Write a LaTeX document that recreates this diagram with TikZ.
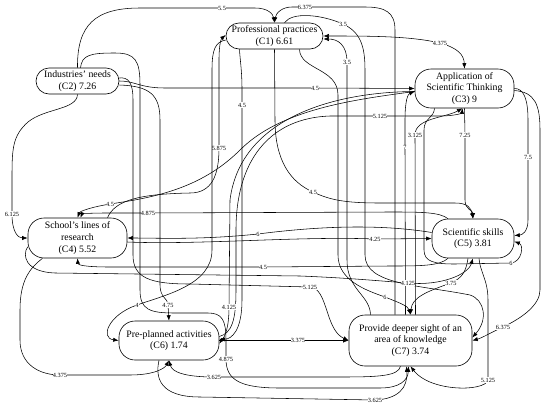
\documentclass[tikz,border=0pt]{standalone}
\usepackage{fontspec}
\setmainfont{Liberation Serif}
\usetikzlibrary{arrows.meta}

\begin{document}
\begin{tikzpicture}[
    x=1pt, y=-1pt, line width=0.55pt,
    concept/.style={draw, rounded corners=16pt, align=center, inner sep=0pt, line width=0.6pt,
      font=\fontsize{9.8}{11.7}\selectfont},
    flat/.style={rounded corners=13pt, minimum height=26pt},
    lbl/.style={fill=white, inner sep=0.4pt, font=\fontsize{6.3}{7}\selectfont},
    >={Latex[length=5.5pt,width=4.2pt]}
  ]
    \useasboundingbox (0,0) rectangle (550,410);

    \node[concept, flat, minimum width=97pt] (practices) at (274.5,36) {Professional practices\\(C1) 6.61};
    \node[concept, flat, minimum width=83pt] (industry) at (77.5,81) {Industries' needs\\(C2) 7.26};
    \node[concept, minimum width=99pt, minimum height=39pt] (thinking) at (464.5,88.5) {Application of\\Scientific Thinking\\(C3) 9};
    \node[concept, minimum width=99pt, minimum height=40pt] (research) at (77.5,238) {School's lines of\\research\\(C4) 5.52};
    \node[concept, minimum width=82pt, minimum height=39pt] (skills) at (473,238.5) {Scientific skills\\(C5) 3.81};
    \node[concept, minimum width=100pt, minimum height=39pt] (activities) at (169,340.5) {Pre-planned activities\\(C6) 1.74};
    \node[concept, minimum width=123pt, minimum height=51pt] (knowledge) at (410.5,340.5) {Provide deeper sight of an\\area of knowledge\\(C7) 3.74};

    \draw[->] (industry.north) .. controls (77,25) and (95,8) .. (140,8) -- (222,8) node[lbl]{5.5} -- (255,8) .. controls (268,8) and (273,14) .. (practices.north);
    \draw[->] ([xshift=-15.5pt]knowledge.north) -- (395,30) .. controls (395,12) and (385,7) .. (365,7) -- (305,7) node[lbl]{6.375} -- (292,7) .. controls (282,7) and (276,13) .. (practices.north);
    \draw[->] ([xshift=10pt]practices.north) .. controls (292,12) and (320,14) .. (343,24) node[lbl]{3.5} .. controls (360,32) and (365,45) .. (365,70) -- (365,255) .. controls (365,285) and (420,285) .. (470,295) .. controls (485,300) and (488,320) .. ([yshift=3pt]knowledge.east);
    \draw[<->] (practices.east) .. controls (370,36) and (410,36) .. (440,43) node[lbl]{4.375} .. controls (458,48) and (464,55) .. (thinking.north);
    \draw[->] ([xshift=-40pt]knowledge.north) .. controls (370,295) and (347,290) .. (347,260) -- (347,62) node[lbl]{3.5} .. controls (347,45) and (338,39) .. ([yshift=-3pt]practices.east);
    \draw[->] (industry.east) .. controls (135,81) and (140,88) .. (165,88) -- (315,88) node[lbl]{4.5} -- (thinking.west);
    \draw[->] ([xshift=-5pt]knowledge.north) -- (405,147) node[lbl]{7} -- (405,120) .. controls (405,100) and (408,94) .. ([yshift=-3pt]thinking.west);
    \draw[->] ([xshift=-35pt]practices.south) .. controls (240,60) and (242,70) .. (242,90) -- (242,105) node[lbl]{4.5} -- (242,300) .. controls (242,330) and (232,339) .. ([yshift=1pt]activities.east);
    \draw[->] (practices.south) -- (275,120) .. controls (275,160) and (290,182) .. (313,192) node[lbl]{4.5} .. controls (330,200) and (345,203) .. (380,203) -- (455,203) .. controls (468,203) and (471,208) .. (skills.north);
    \draw[->] ([yshift=4pt]activities.east) .. controls (232,333) and (236,320) .. (236,290) -- (236,230) .. controls (236,160) and (270,118) .. (330,116) -- (380,116) node[lbl]{5.125} -- (440,116) .. controls (455,116) and (462,113) .. ([xshift=-2pt]thinking.south);
    \draw[->] ([xshift=5pt]knowledge.north) -- (415,135) node[lbl]{3.125} .. controls (415,118) and (445,118) .. ([xshift=-2pt]thinking.south);
    \draw[->] (thinking.south) -- (465,135) node[lbl]{7.25} -- (465,200) .. controls (465,210) and (473,210) .. (skills.north);
    \draw[->] (thinking.east) .. controls (524,88) and (528,100) .. (528,120) -- (528,157) node[lbl]{7.5} -- (528,220) .. controls (528,232) and (522,235) .. ([yshift=3pt]skills.east);
    \draw[->] ([yshift=-2pt]thinking.east) .. controls (535,92) and (540,105) .. (540,130) -- (540,290) .. controls (540,305) and (522,318) .. (503,327) node[lbl]{6.375} .. controls (492,332) and (482,338) .. (knowledge.east);
    \draw[->] ([xshift=-30pt]thinking.south) .. controls (434,118) and (424,118) .. (424,130) -- (424,250) .. controls (424,262) and (435,264) .. (455,264) -- (511,263) node[lbl]{6} .. controls (522,262) and (524,245) .. ([yshift=-3pt]skills.east);
    \draw[->] ([xshift=6pt]skills.south) .. controls (480,272) and (488,280) .. (488,300) -- (488,380) node[lbl]{5.125} .. controls (485,392) and (430,392) .. (knowledge.south);
    \draw[->] ([xshift=-5pt]skills.south) .. controls (466,272) and (462,278) .. (451,283) node[lbl]{3.75} .. controls (425,292) and (412,298) .. (knowledge.north);
    \draw[->] (research.190) .. controls (22,255) and (25,272) .. (55,273) -- (300,276) .. controls (350,278) and (380,281) .. (408,283) node[lbl]{4.125} .. controls (440,286) and (468,275) .. (skills.south);
    \draw[->] ([xshift=-35pt]research.south) .. controls (30,268) and (20,280) .. (20,310) -- (20,340) .. controls (20,365) and (40,375) .. (60,375) node[lbl]{4.375} -- (130,375) .. controls (155,375) and (165,368) .. (activities.south);
    \draw[->] (industry.south) .. controls (77,110) and (45,108) .. (28,122) .. controls (12,136) and (12,150) .. (12,180) -- (12,214) node[lbl]{6.125} .. controls (12,232) and (18,238) .. (research.west);
    \draw[->] ([yshift=-4pt]research.east) .. controls (200,245) and (300,236) .. (375,239) node[lbl]{4.25} -- (skills.west);
    \draw[->] ([yshift=6pt]skills.west) .. controls (380,224) and (320,226) .. (258,234) node[lbl]{6} .. controls (200,240) and (160,238) .. (research.east);
    \draw[->] ([xshift=-25pt]skills.south) .. controls (440,266) and (420,266) .. (390,266) -- (263,267) node[lbl]{4.5} -- (110,267) .. controls (85,267) and (78,265) .. (research.south);
    \draw[->] ([xshift=-25pt]skills.north) .. controls (440,212) and (420,212) .. (390,212) -- (148,213) node[lbl]{4.875} -- (105,213) .. controls (90,213) and (82,214) .. ([xshift=3pt]research.north);
    \draw[->] ([yshift=-3pt]thinking.west) .. controls (350,100) and (280,110) .. (240,150) .. controls (200,190) and (150,198) .. (110,204) node[lbl]{4.5} .. controls (92,207) and (80,211) .. (research.north);
    \draw[->] ([yshift=-3pt]thinking.west) .. controls (330,92) and (240,120) .. (230,200) -- (229,307) node[lbl]{4.125} .. controls (229,328) and (225,336) .. ([yshift=-3pt]activities.east);
    \draw[->] ([xshift=30pt]research.north) .. controls (115,200) and (140,194) .. (190,193) .. controls (212,193) and (219,175) .. (219,148) node[lbl]{5.875} -- (219,60) .. controls (219,45) and (221,39) .. ([yshift=1pt]practices.west);
    \draw[->] ([yshift=-4pt]practices.west) .. controls (215,42) and (212,50) .. (212,70) -- (212,250) .. controls (212,285) and (165,295) .. (137,305) node[lbl]{4} .. controls (108,315) and (100,338) .. (activities.west);
    \draw[->] ([yshift=-4pt]industry.east) .. controls (150,86) and (160,95) .. (160,120) -- (160,285) .. controls (160,298) and (168,298) .. (168,305) node[lbl]{4.75} -- (activities.north);
    \draw[->] ([xshift=3pt]industry.north) .. controls (82,55) and (90,53) .. (115,53) .. controls (135,53) and (140,60) .. (140,85) -- (140,290) .. controls (140,310) and (150,313) .. (175,313) -- (208,313) .. controls (222,313) and (226,320) .. (226,340) -- (226,359) node[lbl]{4.875} .. controls (226,380) and (240,388) .. (280,388) -- (380,388) .. controls (400,388) and (408,380) .. ([xshift=-2pt]knowledge.south);
    \draw[->] ([yshift=3pt]industry.east) .. controls (128,77) and (133,82) .. (133,100) -- (133,255) .. controls (133,278) and (150,284) .. (190,284) -- (310,287) node[lbl]{5.125} .. controls (328,288) and (325,330) .. (knowledge.west);
    \draw[->] ([xshift=25pt]practices.south) .. controls (300,70) and (338,68) .. (338,95) -- (338,255) .. controls (338,280) and (365,290) .. (385,297) node[lbl]{6} .. controls (400,303) and (408,306) .. (knowledge.north);
    \draw[->] ([xshift=-10pt]knowledge.south) .. controls (398,376) and (380,377) .. (340,377) -- (214,377) node[lbl]{3.625} .. controls (185,377) and (172,372) .. (activities.south);
    \draw[->] ([xshift=-10pt]activities.south) .. controls (155,378) and (160,397) .. (200,397) -- (375,400) node[lbl]{3.625} .. controls (398,399) and (408,388) .. ([xshift=-4pt]knowledge.south);
    \draw[->] (activities.east) -- (298,340.5) node[lbl]{3.375} -- (knowledge.west);
  \end{tikzpicture}
\end{document}
